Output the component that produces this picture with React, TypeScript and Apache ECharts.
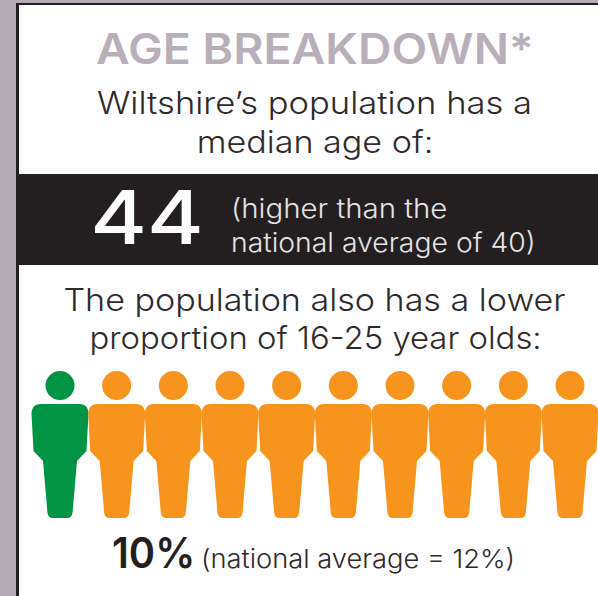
import React, { useEffect, useRef } from "react";
import * as echarts from "echarts";

// Age figures for Wiltshire
const medianAge = 44;
const nationalMedianAge = 40;
const youngShare = 10;
const nationalYoungShare = 12;
const peopleSlots = [0, 1, 2, 3, 4, 5, 6, 7, 8, 9];
const highlightedPeople = 1;

const GREEN = "#009444";
const ORANGE = "#F7941E";
const DARK = "#231F20";
const BODY_TEXT = "#2E2A2B";
const MAUVE = "#B5ABB5";
const FONT = "Inter, 'Open Sans', sans-serif";

// Standing person: round head above a tapered torso and legs
const PERSON =
  "path://M28.5 0A14.5 14.5 0 1 1 28.5 29A14.5 14.5 0 1 1 28.5 0Z" +
  "M9 33L48 33C54 33 57 37 57 43L55 80L45.5 90L41 142C40.7 145 38.5 147 36 147L21 147C18.5 147 16.3 145 16 142L11.5 90L2 80L0 43C0 37 3 33 9 33Z";

// Places a line of text by its baseline; scaleX widens the face to the set measure
function label(text: string, x: number, baseline: number, size: number, color: string, weight = 400, align = "center", scaleX = 1) {
  return {
    type: "text",
    x,
    y: baseline - size * 0.36,
    scaleX,
    style: { text, fill: color, font: `${weight} ${size}px ${FONT}`, textAlign: align, textVerticalAlign: "middle" },
  };
}

export default function App() {
  const ref = useRef<HTMLDivElement>(null);

  useEffect(() => {
    document.body.style.margin = "0";
    const chart = echarts.init(ref.current!, undefined, { renderer: "svg" });
    chart.setOption({
      animation: false,
      backgroundColor: "#fff",
      grid: { left: 60, width: 510, top: 443.5, height: 1 },
      xAxis: { type: "value", min: 0, max: 9, show: false },
      yAxis: { type: "value", min: 0, max: 1, show: false },
      series: [
        {
          type: "scatter",
          symbol: PERSON,
          symbolSize: [57, 147],
          silent: true,
          data: peopleSlots.map((slot) => ({
            value: [slot, 0],
            itemStyle: { color: slot < highlightedPeople ? GREEN : ORANGE, opacity: 1 },
          })),
        },
      ],
      graphic: [
        { type: "rect", z: -1, shape: { x: 0, y: 0, width: 598, height: 3 }, style: { fill: MAUVE } },
        { type: "rect", z: -1, shape: { x: 0, y: 0, width: 16, height: 596 }, style: { fill: MAUVE } },
        { type: "rect", z: -1, shape: { x: 16, y: 3, width: 582, height: 2 }, style: { fill: DARK } },
        { type: "rect", z: -1, shape: { x: 16, y: 3, width: 3, height: 593 }, style: { fill: DARK } },
        { type: "rect", z: -1, shape: { x: 17, y: 174, width: 581, height: 91 }, style: { fill: DARK } },
        label("AGE BREAKDOWN*", 315, 64, 42, "#B9AFBA", 600, "center", 1.105),
        label("Wiltshire’s population has a", 314.5, 114, 31, BODY_TEXT, 300, "center", 1.115),
        label("median age of:", 315, 153, 31, BODY_TEXT, 300, "center", 1.1),
        label(String(medianAge), 147, 244, 74, "#FFFFFF", 500, "center", 1.17),
        label("(higher than the", 231, 218, 27, "#E6E4E5", 300, "left", 1.09),
        label(`national average of ${nationalMedianAge})`, 231, 252, 27, "#E6E4E5", 300, "left", 1.05),
        label("The population also has a lower", 314.5, 311, 31, BODY_TEXT, 300, "center", 1.1),
        label("proportion of 16-25 year olds:", 315.5, 349, 31, BODY_TEXT, 300, "center", 1.06),
        label(`${youngShare}%`, 112, 568, 42, DARK, 600, "left", 0.95),
        label(`(national average = ${nationalYoungShare}%)`, 201, 568, 26, BODY_TEXT, 300, "left", 1.05),
      ],
    });
    return () => chart.dispose();
  }, []);

  return <div ref={ref} style={{ position: "absolute", left: 0, top: 0, width: 598, height: 596 }} />;
}
